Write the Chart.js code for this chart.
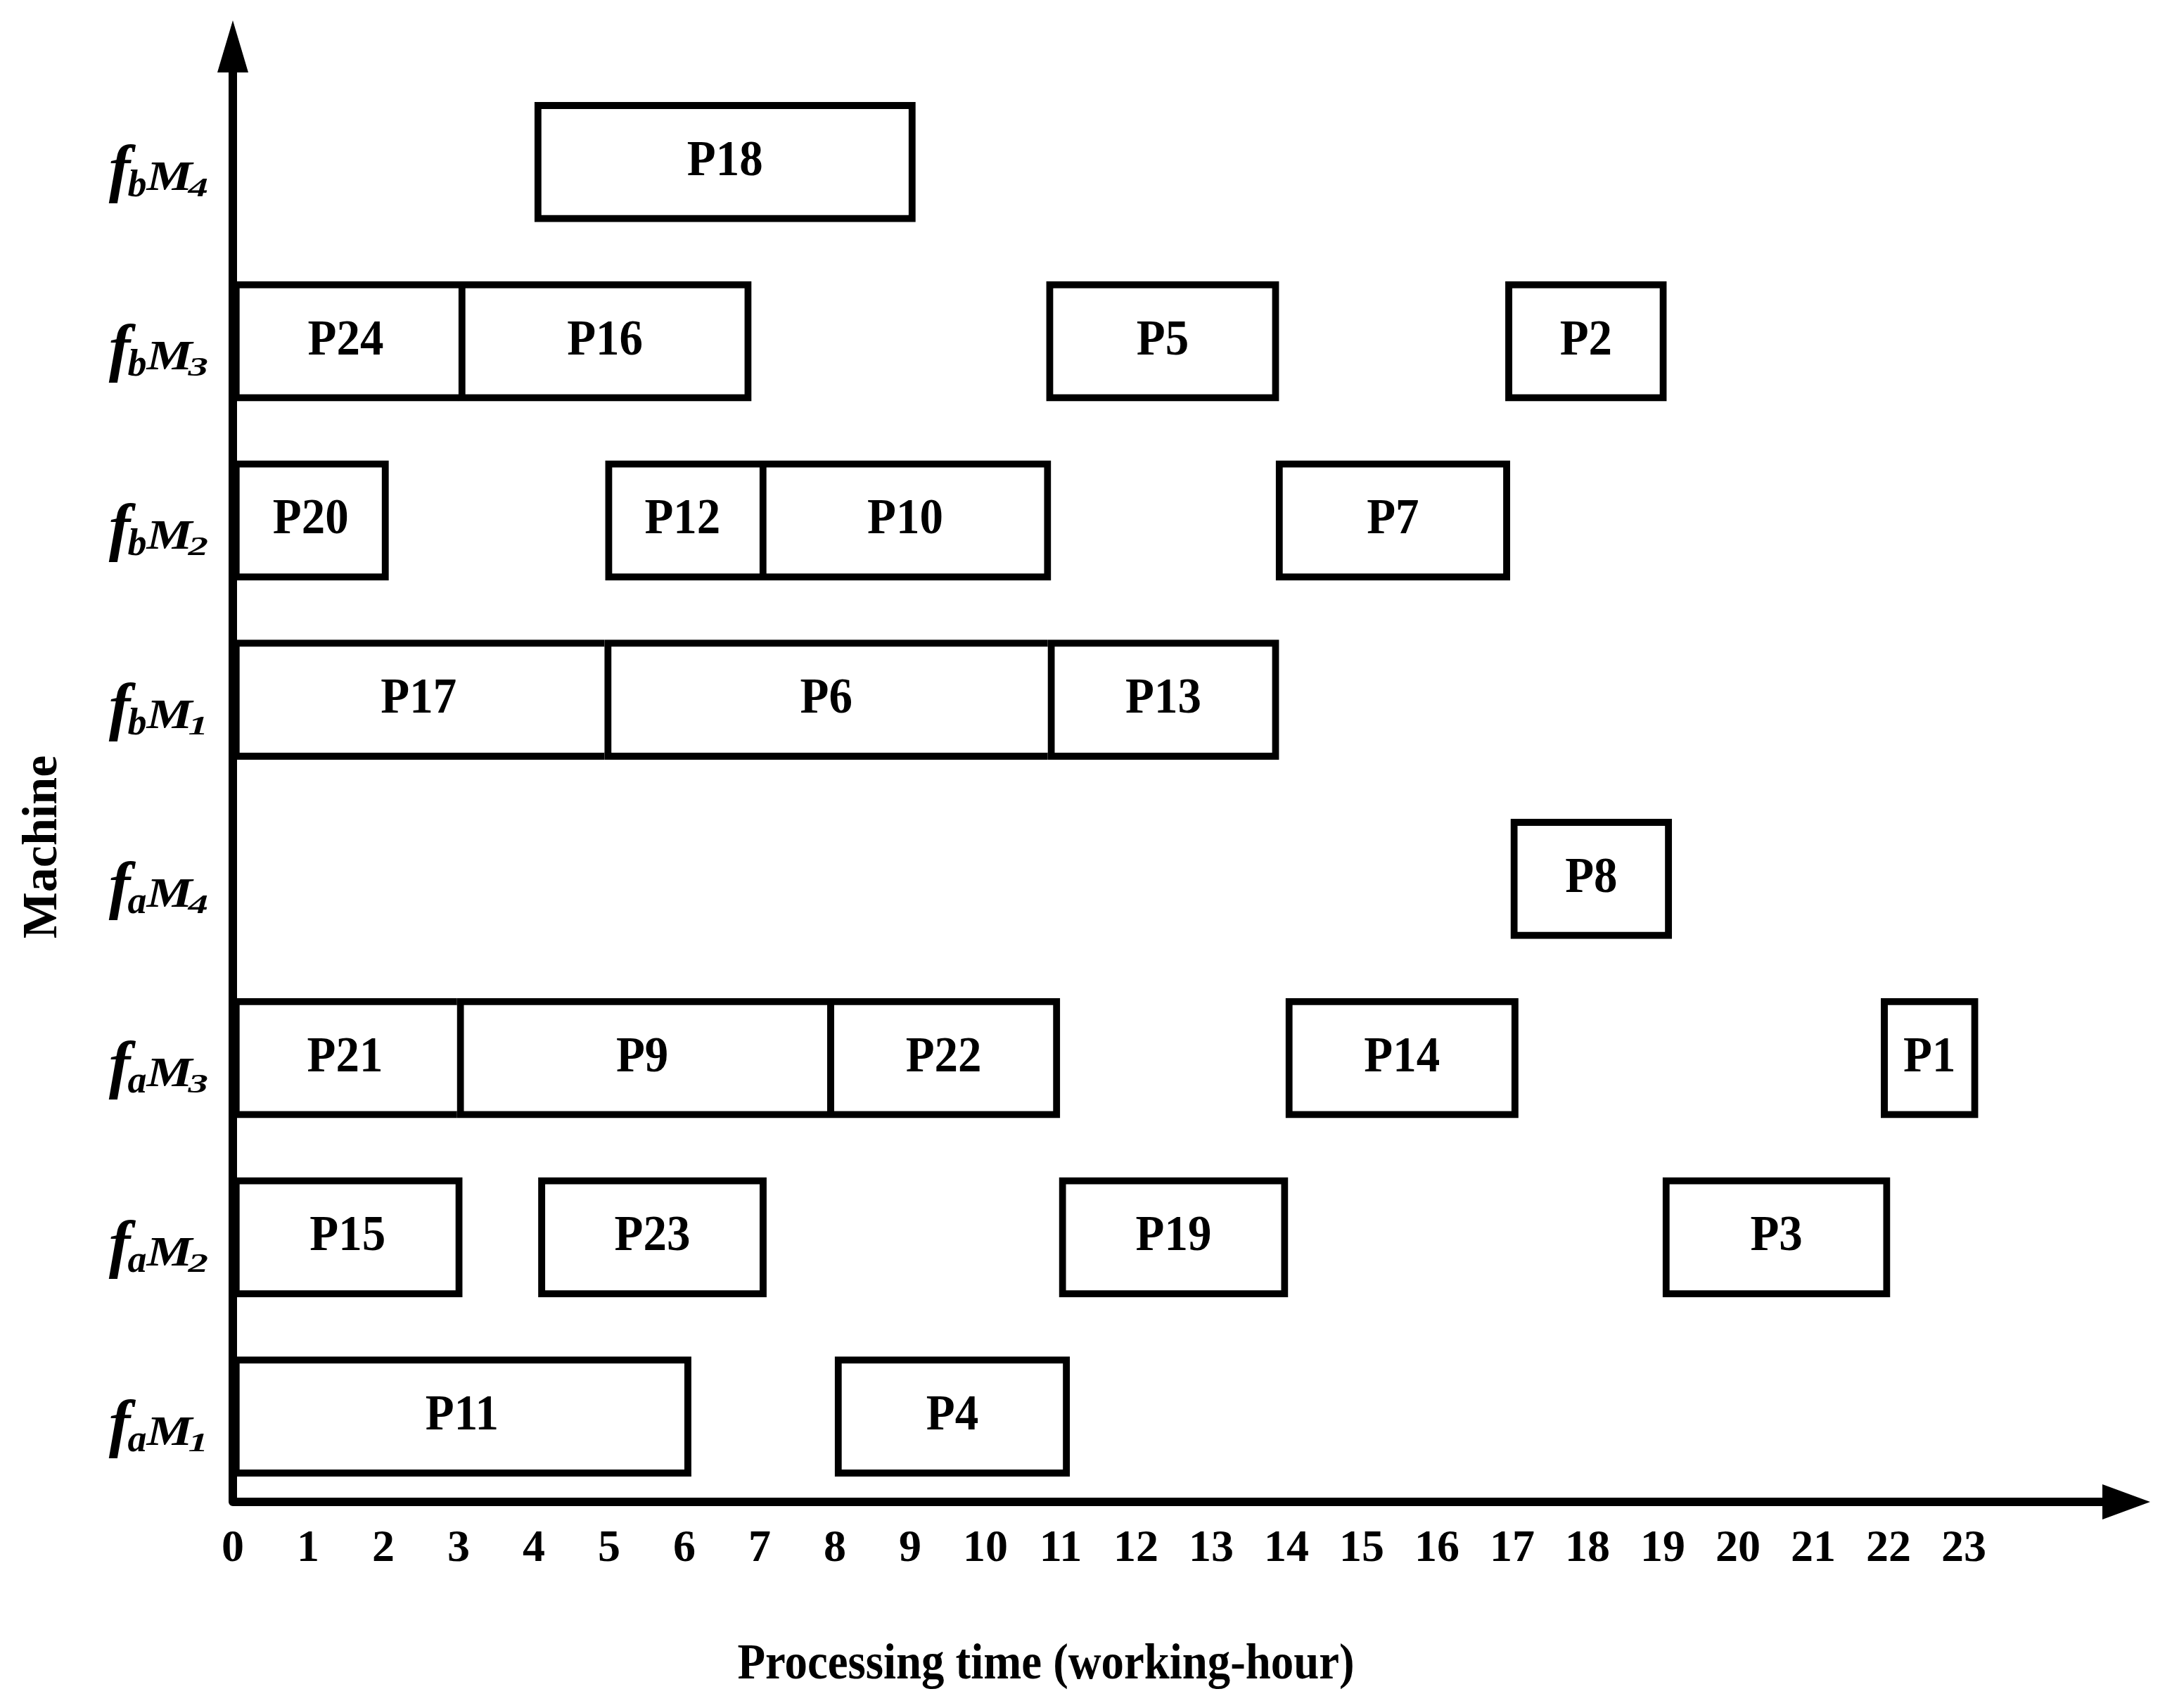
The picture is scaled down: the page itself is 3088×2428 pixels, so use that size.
<!DOCTYPE html>
<html>
<head>
<meta charset="utf-8">
<title>Machine schedule</title>
<script src="https://cdn.jsdelivr.net/npm/chart.js@4.4.0/dist/chart.umd.min.js"></script>
<style>
  html, body { margin: 0; padding: 0; background: #fff; }
</style>
</head>
<body>
<canvas id="gantt" width="3088" height="2428"></canvas>
<script>
const SERIF = "'Liberation Serif', 'Times New Roman', serif";

// machines, top row first
const machines = ['fbM4', 'fbM3', 'fbM2', 'fbM1', 'faM4', 'faM3', 'faM2', 'faM1'];

// jobs (working-hours)
const jobNames   = ['P18', 'P24', 'P16', 'P5', 'P2', 'P20', 'P12', 'P10', 'P7', 'P17', 'P6', 'P13',
                    'P8', 'P21', 'P9', 'P22', 'P14', 'P1', 'P15', 'P23', 'P19', 'P3', 'P11', 'P4'];
const jobMachine = ['fbM4', 'fbM3', 'fbM3', 'fbM3', 'fbM3', 'fbM2', 'fbM2', 'fbM2', 'fbM2', 'fbM1', 'fbM1', 'fbM1',
                    'faM4', 'faM3', 'faM3', 'faM3', 'faM3', 'faM3', 'faM2', 'faM2', 'faM2', 'faM2', 'faM1', 'faM1'];
const jobStart   = [4.01, 0, 3, 10.81, 16.91, 0, 4.95, 7.0, 13.86, 0, 4.94, 10.83,
                    16.98, 0, 2.98, 7.9, 13.99, 21.9, 0, 4.06, 10.98, 19.0, 0, 8.0];
const jobEnd     = [9.07, 3, 6.89, 13.9, 19.05, 2.07, 7.0, 10.87, 16.97, 4.94, 10.83, 13.9,
                    19.12, 2.98, 7.9, 10.99, 17.08, 23.19, 3.05, 7.09, 14.02, 22.02, 6.09, 11.12];

const hourLabels = ['0', '1', '2', '3', '4', '5', '6', '7', '8', '9', '10', '11',
                    '12', '13', '14', '15', '16', '17', '18', '19', '20', '21', '22', '23'];

// a box that another box on the same machine continues from shares its right edge
const joinedRight = jobNames.map((n, i) =>
  jobNames.some((m, j) => j !== i && jobMachine[j] === jobMachine[i] && jobStart[j] === jobEnd[i]));

const ganttDecor = {
  id: 'ganttDecor',
  afterDatasetsDraw(chart) {
    const { ctx, chartArea, scales } = chart;
    const xs = scales.x, ys = scales.y;
    const x0 = xs.getPixelForValue(0);
    const yb = chartArea.bottom - 6;

    ctx.save();
    ctx.fillStyle = '#000';
    ctx.strokeStyle = '#000';

    // axes with arrow heads
    ctx.lineWidth = 12;
    ctx.lineJoin = 'round';
    ctx.beginPath();
    ctx.moveTo(x0, chartArea.top);
    ctx.lineTo(x0, yb);
    ctx.lineTo(chartArea.right - 16, yb);
    ctx.stroke();

    ctx.beginPath();
    ctx.moveTo(x0, chartArea.top - 74);
    ctx.lineTo(x0 - 22, chartArea.top);
    ctx.lineTo(x0 + 22, chartArea.top);
    ctx.closePath();
    ctx.fill();

    ctx.beginPath();
    ctx.moveTo(chartArea.right + 51, yb);
    ctx.lineTo(chartArea.right - 17, yb - 25);
    ctx.lineTo(chartArea.right - 17, yb + 25);
    ctx.closePath();
    ctx.fill();

    // job names inside the boxes
    ctx.font = `bold 72px ${SERIF}`;
    ctx.textAlign = 'center';
    ctx.textBaseline = 'middle';
    chart.getDatasetMeta(0).data.forEach((bar, i) => {
      const { x, y, base } = bar.getProps(['x', 'y', 'base'], true);
      ctx.save();
      ctx.translate((x + base) / 2, y);
      ctx.scale(0.93, 1);
      ctx.fillText(jobNames[i], 0, 0);
      ctx.restore();
    });

    // machine labels  f_a M_1 etc.
    ctx.textAlign = 'left';
    ctx.textBaseline = 'alphabetic';
    machines.forEach((m, k) => {
      const yBase = ys.getPixelForValue(k) + 40;
      const parts = [
        { t: 'f',  size: 92, sx: 1,    dy: 0, kern: -4 },
        { t: m[1], size: 54, sx: 1,    dy: 9, kern: 0 },
        { t: 'M',  size: 60, sx: 1.22, dy: 0, kern: -6 },
        { t: m[3], size: 38, sx: 1.5,  dy: 9, kern: 0 }
      ];
      let total = 0;
      parts.forEach(p => {
        ctx.font = `italic bold ${p.size}px ${SERIF}`;
        p.w = ctx.measureText(p.t).width * p.sx;
        total += p.w + p.kern;
      });
      let cx = 296 - total;
      parts.forEach(p => {
        ctx.font = `italic bold ${p.size}px ${SERIF}`;
        ctx.save();
        ctx.translate(cx, yBase + p.dy);
        ctx.scale(p.sx, 1);
        ctx.fillText(p.t, 0, 0);
        ctx.restore();
        cx += p.w + p.kern;
      });
    });

    // axis titles
    ctx.font = `bold 72px ${SERIF}`;
    ctx.textAlign = 'center';
    ctx.save();
    ctx.translate(1487, 2386);
    ctx.scale(0.9, 1);
    ctx.fillText('Processing time (working-hour)', 0, 0);
    ctx.restore();

    ctx.font = `bold 70px ${SERIF}`;
    ctx.save();
    ctx.translate(80, 1204);
    ctx.rotate(-Math.PI / 2);
    ctx.fillText('Machine', 0, 0);
    ctx.restore();

    ctx.restore();
  }
};

new Chart(document.getElementById('gantt'), {
  type: 'bar',
  data: {
    labels: machines,
    datasets: [{
      data: jobNames.map((n, i) => ({ x: [jobStart[i], jobEnd[i]], y: jobMachine[i] })),
      backgroundColor: '#fff',
      borderColor: '#000',
      borderWidth: 10,
      borderSkipped: joinedRight.map(j => (j ? 'end' : false)),
      barThickness: 170
    }]
  },
  options: {
    indexAxis: 'y',
    responsive: false,
    animation: false,
    devicePixelRatio: 1,
    layout: { padding: { top: 103, right: 82, left: 0, bottom: 0 } },
    plugins: {
      legend: { display: false },
      tooltip: { enabled: false }
    },
    scales: {
      x: {
        type: 'linear',
        min: 0,
        max: 25,
        grid: { display: false },
        border: { display: false },
        ticks: {
          stepSize: 1,
          autoSkip: false,
          maxRotation: 0,
          padding: 15,
          color: '#000',
          font: { family: SERIF, size: 64, weight: 'bold' },
          callback: v => hourLabels[v] ?? ''
        },
        afterFit: s => { s.height = 287; }
      },
      y: {
        type: 'category',
        grid: { display: false },
        border: { display: false },
        ticks: { display: false },
        afterFit: s => { s.width = 331; }
      }
    }
  },
  plugins: [ganttDecor]
});
</script>
</body>
</html>
